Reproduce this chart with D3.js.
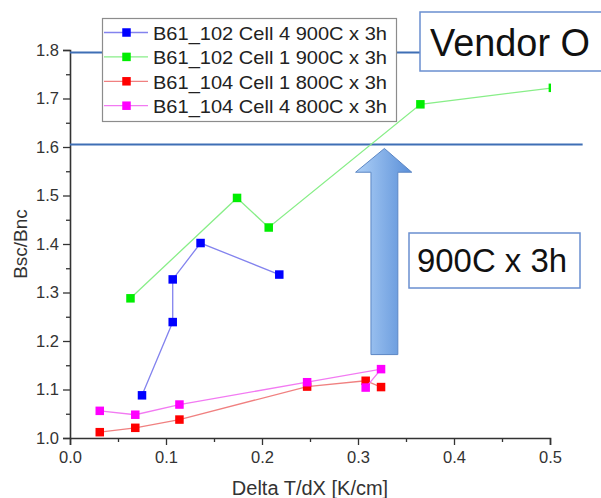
<!DOCTYPE html>
<html>
<head>
<meta charset="utf-8">
<script src="https://cdn.jsdelivr.net/npm/d3@7"></script>
<style>
  body { margin: 0; background: #fff; }
  text { font-family: "Liberation Sans", Arial, sans-serif; }
</style>
</head>
<body>
<div id="chart"></div>
<script>
// series names (legend order)
const seriesNames = [
  "B61_102 Cell 4 900C x 3h",
  "B61_102 Cell 1 900C x 3h",
  "B61_104 Cell 1 800C x 3h",
  "B61_104 Cell 4 800C x 3h"
];
const markerColors = ["#0000ff", "#00ee00", "#ff0000", "#ff00ff"];
const lineColors = ["#8383ee", "#88ee88", "#f08080", "#f27af2"];

// x = Delta T/dX, y = Bsc/Bnc, in drawing order
const blueX = [0.075, 0.107, 0.107, 0.136, 0.218];
const blueY = [1.088, 1.239, 1.327, 1.402, 1.337];
const greenX = [0.063, 0.174, 0.207, 0.365, 0.503];
const greenY = [1.288, 1.495, 1.434, 1.688, 1.722];
const redX = [0.031, 0.068, 0.114, 0.247, 0.308, 0.324];
const redY = [1.012, 1.021, 1.038, 1.106, 1.118, 1.105];
const magentaX = [0.031, 0.068, 0.114, 0.247, 0.324, 0.308];
const magentaY = [1.056, 1.048, 1.069, 1.115, 1.142, 1.104];

const xTicks = [0.0, 0.1, 0.2, 0.3, 0.4, 0.5];
const yTicks = [1.0, 1.1, 1.2, 1.3, 1.4, 1.5, 1.6, 1.7, 1.8];

// reference lines and the arrow (in data units)
const vendorLevel = 1.795;
const targetLevel = 1.605;
const arrowTip = 1.597, arrowNeck = 1.548, arrowBottom = 1.172;

const margin = {top: 50, right: 51, bottom: 60, left: 70},
    width = 601 - margin.left - margin.right,
    height = 498 - margin.top - margin.bottom;

const svg = d3.select("#chart")
    .append("svg")
    .attr("width", 601)
    .attr("height", 498);

const defs = svg.append("defs");
const grad = defs.append("linearGradient").attr("id", "arrowGrad")
    .attr("x1", "0%").attr("x2", "100%").attr("y1", "0%").attr("y2", "0%");
grad.append("stop").attr("offset", "0%").attr("stop-color", "#aed0f7");
grad.append("stop").attr("offset", "100%").attr("stop-color", "#5a8fd8");

defs.append("clipPath").attr("id", "plotClip")
    .append("rect")
    .attr("x", -10).attr("y", -10)
    .attr("width", width + 11).attr("height", height + 20);

const g = svg.append("g")
    .attr("transform", "translate(" + margin.left + "," + margin.top + ")");

const x = d3.scaleLinear().domain([0, 0.5]).range([0, width]);
const y = d3.scaleLinear().domain([1.0, 1.8]).range([height, 0]);

// X axis
g.append("g")
    .attr("transform", "translate(0," + height + ")")
    .call(d3.axisBottom(x).tickValues(xTicks).tickFormat(d3.format(".1f")).tickSize(7).tickPadding(6));
g.append("g")
    .attr("transform", "translate(0," + height + ")")
    .call(d3.axisBottom(x).tickValues(d3.range(0.05, 0.5, 0.1)).tickFormat("").tickSize(4))
    .select(".domain").remove();

// Y axis
g.append("g")
    .call(d3.axisLeft(y).tickValues(yTicks).tickFormat(d3.format(".1f")).tickSize(7).tickPadding(4));
g.append("g")
    .call(d3.axisLeft(y).tickValues(d3.range(1.05, 1.8, 0.1)).tickFormat("").tickSize(4))
    .select(".domain").remove();

g.selectAll(".domain").attr("stroke", "#333").attr("stroke-width", 1.6);
g.selectAll(".tick line").attr("stroke", "#333").attr("stroke-width", 1.3);
g.selectAll(".tick text").attr("font-size", 16.5).attr("fill", "#333")
    .attr("font-family", "Liberation Sans, Arial, sans-serif");

// axis labels
svg.append("text")
    .attr("text-anchor", "middle")
    .attr("x", 310)
    .attr("y", 495)
    .attr("font-size", 20)
    .attr("fill", "#333")
    .text("Delta T/dX [K/cm]");
svg.append("text")
    .attr("text-anchor", "middle")
    .attr("transform", "rotate(-90)")
    .attr("x", -244)
    .attr("y", 27)
    .attr("font-size", 19)
    .attr("fill", "#333")
    .text("Bsc/Bnc");

// horizontal reference lines
g.append("line")
    .attr("x1", x(0)).attr("x2", x(0.365))
    .attr("y1", y(vendorLevel)).attr("y2", y(vendorLevel))
    .attr("stroke", "#3f6fb5").attr("stroke-width", 2);
g.append("line")
    .attr("x1", x(0)).attr("x2", x(0.534))
    .attr("y1", y(targetLevel)).attr("y2", y(targetLevel))
    .attr("stroke", "#3f6fb5").attr("stroke-width", 2);

// series
const series = [
  {xs: blueX, ys: blueY},
  {xs: greenX, ys: greenY},
  {xs: redX, ys: redY},
  {xs: magentaX, ys: magentaY}
];
const line = d3.line()
    .x(function(d) { return x(d[0]); })
    .y(function(d) { return y(d[1]); });

const plot = g.append("g").attr("clip-path", "url(#plotClip)");
const ms = 8.5;
series.forEach(function(s, i) {
  const pts = s.xs.map(function(v, j) { return [v, s.ys[j]]; });
  plot.append("path")
      .datum(pts)
      .attr("fill", "none")
      .attr("stroke", lineColors[i])
      .attr("stroke-width", 1.3)
      .attr("d", line);
  plot.selectAll(".m" + i)
      .data(pts)
      .enter()
      .append("rect")
      .attr("x", function(d) { return x(d[0]) - ms / 2; })
      .attr("y", function(d) { return y(d[1]) - ms / 2; })
      .attr("width", ms)
      .attr("height", ms)
      .attr("fill", markerColors[i]);
});

// big arrow
const shaftL = 0.3135, shaftR = 0.3415, headL = 0.2975, headR = 0.356, tip = 0.3275;
g.append("path")
    .attr("d", d3.line()([
      [x(shaftL), y(arrowBottom)],
      [x(shaftL), y(arrowNeck)],
      [x(headL), y(arrowNeck)],
      [x(tip), y(arrowTip)],
      [x(headR), y(arrowNeck)],
      [x(shaftR), y(arrowNeck)],
      [x(shaftR), y(arrowBottom)]
    ]) + "Z")
    .attr("fill", "url(#arrowGrad)")
    .attr("stroke", "#5b86c4")
    .attr("stroke-width", 1);

// text boxes
function textBox(bx, by, bw, bh, label, size, tx, ty, tw) {
  svg.append("rect")
      .attr("x", bx).attr("y", by)
      .attr("width", bw).attr("height", bh)
      .attr("fill", "#fff")
      .attr("stroke", "#6a8fd0")
      .attr("stroke-width", 1.5);
  svg.append("text")
      .attr("x", tx).attr("y", ty)
      .attr("font-family", "Lato, 'Open Sans', sans-serif")
      .attr("font-size", size)
      .attr("textLength", tw)
      .attr("lengthAdjust", "spacingAndGlyphs")
      .attr("fill", "#111")
      .text(label);
}
textBox(420, 12, 190, 59, "Vendor O", 39, 430, 56, 160);
textBox(409, 233, 171, 55, "900C x 3h", 34, 417, 272, 150);

// legend
const legend = svg.append("g");
legend.append("rect")
    .attr("x", 102.5).attr("y", 18.5)
    .attr("width", 294).attr("height", 103)
    .attr("fill", "#fff")
    .attr("stroke", "#8c8c8c")
    .attr("stroke-width", 1.2);
seriesNames.forEach(function(name, i) {
  const ly = 32.5 + i * 24.4;
  legend.append("line")
      .attr("x1", 104).attr("x2", 148)
      .attr("y1", ly).attr("y2", ly)
      .attr("stroke", lineColors[i]).attr("stroke-width", 1.3);
  legend.append("rect")
      .attr("x", 126.5 - ms / 2).attr("y", ly - ms / 2)
      .attr("width", ms).attr("height", ms)
      .attr("fill", markerColors[i]);
  legend.append("text")
      .attr("x", 153).attr("y", ly + 7.5)
      .attr("font-size", 18.5)
      .attr("textLength", 234)
      .attr("lengthAdjust", "spacingAndGlyphs")
      .attr("fill", "#222")
      .text(name);
});
</script>
</body>
</html>
